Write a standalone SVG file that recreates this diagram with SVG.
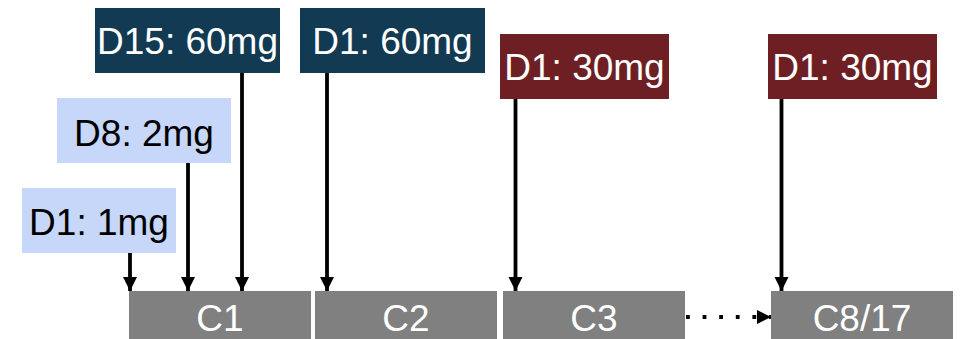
<svg xmlns="http://www.w3.org/2000/svg" width="962" height="339" viewBox="0 0 962 339">
  <style>
    .lbl { font-family: "Liberation Sans", Arial, sans-serif; font-size: 37px; text-anchor: middle; }
    .navy { fill: #133A53; }
    .red { fill: #6E1F24; }
    .light { fill: #C6D7FA; }
    .cycle { fill: #808080; }
    .wt { fill: #FFFFFF; }
    .bk { fill: #000000; }
    .arrow { stroke: #000; stroke-width: 3.8; fill: none; marker-end: url(#head); }
    .dots { stroke: #000; stroke-width: 3.8; fill: none; stroke-dasharray: 3.8 12.8; marker-end: url(#head); }
  </style>
  <defs>
    <marker id="head" viewBox="0 0 10 10" refX="10" refY="5" markerWidth="3.8" markerHeight="3.8" markerUnits="strokeWidth" orient="auto">
      <path d="M0,0 L10,5 L0,10 Z" fill="#000"/>
    </marker>
  </defs>
  <rect width="962" height="339" fill="#FFFFFF"/>

  <!-- cycles -->
  <g id="c1"><rect class="cycle" x="129" y="291" width="182" height="48"/><text class="lbl wt" x="220" y="331">C1</text></g>
  <g id="c2"><rect class="cycle" x="315" y="291" width="182" height="48"/><text class="lbl wt" x="406" y="331">C2</text></g>
  <g id="c3"><rect class="cycle" x="503" y="291" width="182" height="48"/><text class="lbl wt" x="594" y="331">C3</text></g>
  <g id="c8"><rect class="cycle" x="771" y="291" width="182" height="48"/><text class="lbl wt" x="862" y="331">C8/17</text></g>

  <!-- dose labels -->
  <g id="d1-1mg"><rect class="light" x="22" y="188" width="154" height="65"/><text class="lbl bk" x="99" y="235">D1: 1mg</text></g>
  <g id="d8-2mg"><rect class="light" x="57" y="98" width="174" height="65"/><text class="lbl bk" x="144" y="146">D8: 2mg</text></g>
  <g id="d15-60mg"><rect class="navy" x="95" y="8" width="185" height="65"/><text class="lbl wt" x="187.5" y="54">D15: 60mg</text></g>
  <g id="c2-d1-60mg"><rect class="navy" x="300" y="8" width="185" height="65"/><text class="lbl wt" x="392.5" y="54">D1: 60mg</text></g>
  <g id="c3-d1-30mg"><rect class="red" x="500" y="34" width="169" height="65"/><text class="lbl wt" x="584.5" y="80">D1: 30mg</text></g>
  <g id="c8-d1-30mg"><rect class="red" x="768" y="34" width="169" height="65"/><text class="lbl wt" x="852.5" y="80">D1: 30mg</text></g>

  <!-- connectors -->
  <g id="connectors">
    <line class="arrow" x1="130" y1="253" x2="130" y2="291"/>
    <line class="arrow" x1="188" y1="163" x2="188" y2="291"/>
    <line class="arrow" x1="242" y1="73" x2="242" y2="291"/>
    <line class="arrow" x1="327" y1="73" x2="327" y2="291"/>
    <line class="arrow" x1="515.5" y1="99" x2="515.5" y2="291"/>
    <line class="arrow" x1="781.5" y1="99" x2="781.5" y2="291"/>
    <line class="dots" x1="686" y1="317" x2="771" y2="317"/>
  </g>
</svg>
